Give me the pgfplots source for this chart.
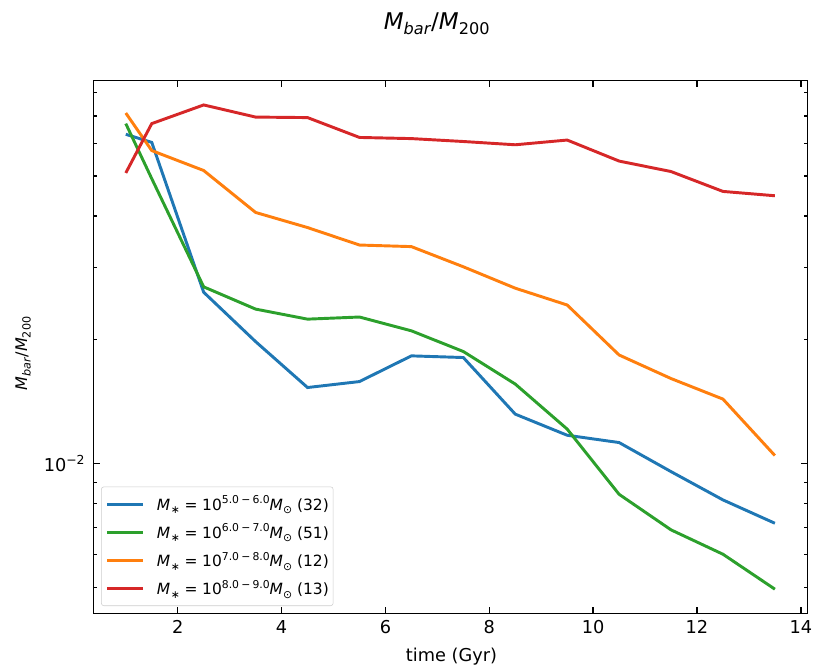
\documentclass[border=0pt]{standalone}
\usepackage{fontspec}
\setmainfont{DejaVu Sans}
\usepackage{graphicx}
\usepackage{pgfplots}
\pgfplotsset{compat=1.18}
\definecolor{tabblue}{HTML}{1F77B4}
\definecolor{taborange}{HTML}{FF7F0E}
\definecolor{tabgreen}{HTML}{2CA02C}
\definecolor{tabred}{HTML}{D62728}
\newcommand{\lo}[1]{\raisebox{-0.22em}{\scalebox{0.7}{#1}}}
\newcommand{\hi}[1]{\raisebox{0.42em}{\scalebox{0.7}{#1}}}
\newcommand{\ratio}{\textit{M}\lo{\textit{bar}}/\textit{M}\lo{200}}
\newcommand{\lab}[3]{\textit{M}\hspace{0.05em}\lo{∗}\hspace{0.3em}=\hspace{0.3em}10\hi{#1\hspace{0.2em}−\hspace{0.2em}#2}\textit{M}\lo{⊙} (#3)}
\begin{document}
\begin{tikzpicture}
\useasboundingbox (-70pt,-40.95pt) rectangle (542pt,460.05pt);
\begin{axis}[
  at={(0pt,0pt)}, anchor=south west,
  scale only axis, width=535.5pt, height=399.5pt,
  ymode=log,
  xmin=0.375, xmax=14.125, ymin=0.004322, ymax=0.0853,
  xtick={2,4,6,8,10,12,14}, xticklabels={2,4,6,8,10,12,14},
  minor xtick={},
  ytick={0.01}, yticklabels={{10\hi{−2}}},
  minor ytick={0.005,0.006,0.007,0.008,0.009,0.02,0.03,0.04,0.05,0.06,0.07,0.08},
  tick align=inside,
  major tick length=4.67pt, minor tick length=2.7pt,
  tick style={black, line width=1pt},
  axis line style={line width=1pt},
  ticklabel style={font=\fontsize{13.3}{16}\selectfont},
  xticklabel style={yshift=-1.8pt},
  yticklabel style={xshift=-3pt},
  legend cell align=left,
  legend style={at={(0.0108,0.0139)}, anchor=south west,
    draw=black!20, fill=white, rounded corners=2pt,
    font=\fontsize{11.6}{14}\selectfont,
    inner xsep=3.3pt, inner ysep=2.4pt,
    nodes={inner sep=0pt, minimum height=21.1pt},
    /tikz/every odd column/.append style={column sep=9.4pt}},
  legend image code/.code={\draw[#1, line width=2.2pt] (0pt,0pt) -- (26.7pt,0pt);},
  every axis plot/.append style={line width=2.2pt},
]
\addplot[tabblue] coordinates {
(1,0.0632) (1.5,0.0604) (2.5,0.0261) (3.5,0.0198) (4.5,0.01531) (5.5,0.01583)
(6.5,0.01828) (7.5,0.01811) (8.5,0.01319) (9.5,0.01172) (10.5,0.01125)
(11.5,0.00956) (12.5,0.00816) (13.5,0.00716)};
\addlegendentry{\lab{5.0}{6.0}{32}}
\addplot[tabgreen] coordinates {
(1,0.0671) (1.5,0.0493) (2.5,0.0269) (3.5,0.02375) (4.5,0.02245) (5.5,0.02272)
(6.5,0.02103) (7.5,0.01873) (8.5,0.01561) (9.5,0.01213) (10.5,0.00842)
(11.5,0.00690) (12.5,0.00602) (13.5,0.00495)};
\addlegendentry{\lab{6.0}{7.0}{51}}
\addplot[taborange] coordinates {
(1,0.0712) (1.5,0.0577) (2.5,0.0516) (3.5,0.0408) (4.5,0.0375) (5.5,0.0340)
(6.5,0.0337) (7.5,0.0301) (8.5,0.0267) (9.5,0.0243) (10.5,0.01837)
(11.5,0.0161) (12.5,0.01435) (13.5,0.01046)};
\addlegendentry{\lab{7.0}{8.0}{12}}
\addplot[tabred] coordinates {
(1,0.0509) (1.5,0.0671) (2.5,0.0745) (3.5,0.0696) (4.5,0.0694) (5.5,0.0621)
(6.5,0.0617) (7.5,0.0607) (8.5,0.0596) (9.5,0.0612) (10.5,0.0544)
(11.5,0.0513) (12.5,0.0459) (13.5,0.0448)};
\addlegendentry{\lab{8.0}{9.0}{13}}
\end{axis}
\node[anchor=base, font=\fontsize{17.25}{20}\selectfont] at (257.5pt,438pt) {\ratio};
\node[anchor=base, font=\fontsize{13.3}{16}\selectfont] at (268.6pt,-35.7pt) {time (Gyr)};
\node[anchor=base, rotate=90, font=\fontsize{12}{14}\selectfont] at (-49.7pt,195pt) {\ratio};
\end{tikzpicture}
\end{document}
